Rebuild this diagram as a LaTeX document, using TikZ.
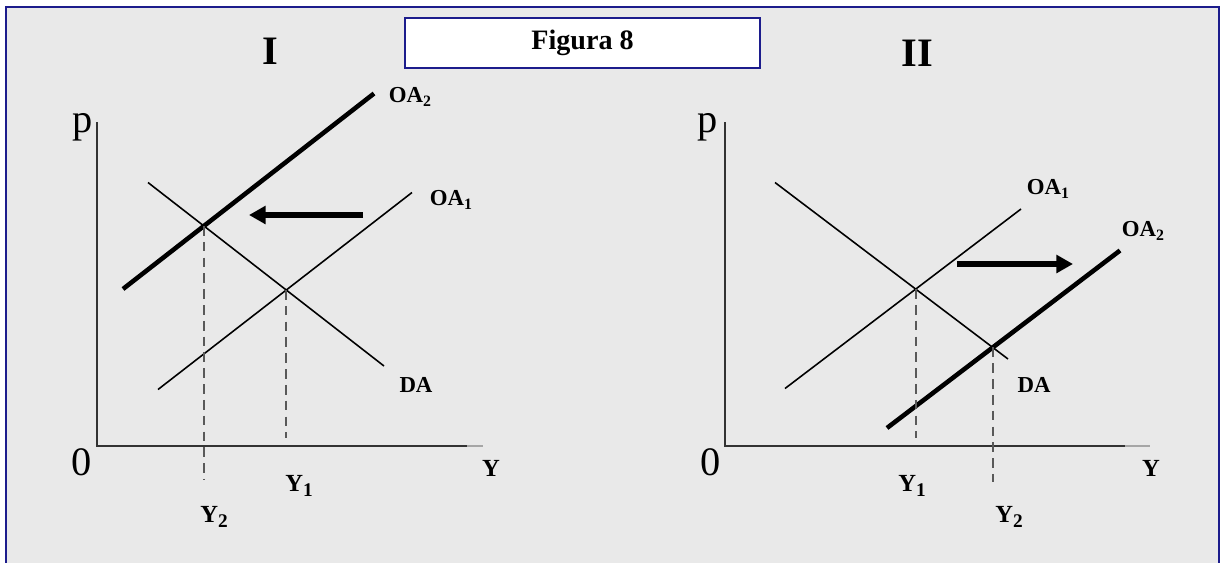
\documentclass[tikz,border=0pt]{standalone}
\usepackage{fontspec}
\setmainfont{Liberation Serif}
\usetikzlibrary{arrows.meta}
\definecolor{framenavy}{HTML}{1C1C8C}
\definecolor{panelgray}{HTML}{E9E9E9}
\newcommand{\lowsub}[2][9]{\raisebox{-0.45ex}{\fontsize{#1}{#1}\selectfont #2}}
\tikzset{
  axis/.style       = {line width=1pt, black!80},
  axisend/.style    = {line width=1pt, black!35},
  curve/.style      = {line width=0.9pt},
  newcurve/.style   = {line width=2.6pt},
  guide/.style      = {dash pattern=on 5.5pt off 3.5pt, line width=0.9pt, black!65},
  shiftarrow/.style = {line width=3.2pt, -{Triangle[length=9.5pt,width=10pt]}},
  lbl/.style        = {font=\bfseries\fontsize{13}{13}\selectfont, inner sep=0pt},
  ylbl/.style       = {font=\bfseries\fontsize{14}{14}\selectfont, inner sep=0pt},
  axlbl/.style      = {font=\fontsize{23}{23}\selectfont, inner sep=0pt},
  ttl/.style        = {font=\bfseries\fontsize{23}{23}\selectfont, inner sep=0pt},
  figbox/.style     = {draw=framenavy, line width=1pt, fill=white,
                       minimum width=7.1cm, minimum height=1cm,
                       font=\bfseries\fontsize{16}{16}\selectfont}
}
\begin{document}
\begin{tikzpicture}[x=0.02cm, y=-0.02cm]
  \clip (0,0) rectangle (1225,562);
  % frame
  \fill[panelgray] (6,7) rectangle (1219,575);
  \draw[framenavy, line width=1.2pt] (6,575) -- (6,7) -- (1219,7) -- (1219,575);
  \node[figbox] (fig) at (582.5,43) {Figura 8};

  % --- panel I: supply shifts left
  \node[ttl] (tI) at (270,51) {I};
  \node[axlbl] (pI) at (83,127) {p};
  \node[axlbl] (zI) at (82,462) {0};
  \draw[axis] (97,122) -- (97,446) -- (467,446);
  \draw[axisend] (467,446) -- (483,446);
  \coordinate (daIa)  at (148,182.5); \coordinate (daIb)  at (384,366);
  \coordinate (oa1Ia) at (158,389.5); \coordinate (oa1Ib) at (412,192.5);
  \coordinate (oa2Ia) at (123,289);   \coordinate (oa2Ib) at (374,93.5);
  \draw[curve] (daIa) -- (daIb);
  \draw[curve] (oa1Ia) -- (oa1Ib);
  \draw[newcurve] (oa2Ia) -- (oa2Ib);
  \coordinate (eIa) at (intersection of daIa--daIb and oa1Ia--oa1Ib);
  \coordinate (eIb) at (intersection of daIa--daIb and oa2Ia--oa2Ib);
  \draw[guide] (eIa) -- (eIa |- 0,438);
  \draw[guide] (eIb) -- (eIb |- 0,479);
  \coordinate (arIa) at (363,215); \coordinate (arIb) at (249,215);
  \draw[shiftarrow] (arIa) -- (arIb);
  \node[lbl] (oa2Il) at (410,97) {OA\lowsub{2}};
  \node[lbl] (oa1Il) at (451,200) {OA\lowsub{1}};
  \node[lbl] (daIl)  at (416,385) {DA};
  \node[ylbl] (yIl)  at (491,468) {Y};
  \node[ylbl] (y1Il) at (299,486) {Y\lowsub[11]{1}};
  \node[ylbl] (y2Il) at (214,517) {Y\lowsub[11]{2}};

  % --- panel II: supply shifts right
  \node[ttl] (tII) at (917,53) {II};
  \node[axlbl] (pII) at (708,127) {p};
  \node[axlbl] (zII) at (711,462) {0};
  \draw[axis] (725,122) -- (725,446) -- (1125,446);
  \draw[axisend] (1125,446) -- (1150,446);
  \coordinate (daIIa)  at (775,182.5); \coordinate (daIIb)  at (1008,359);
  \coordinate (oa1IIa) at (785,388.5); \coordinate (oa1IIb) at (1021,209);
  \coordinate (oa2IIa) at (887,428);   \coordinate (oa2IIb) at (1120,250.5);
  \draw[curve] (daIIa) -- (daIIb);
  \draw[curve] (oa1IIa) -- (oa1IIb);
  \draw[newcurve] (oa2IIa) -- (oa2IIb);
  \coordinate (eIIa) at (intersection of daIIa--daIIb and oa1IIa--oa1IIb);
  \coordinate (eIIb) at (intersection of daIIa--daIIb and oa2IIa--oa2IIb);
  \draw[guide] (eIIa) -- (eIIa |- 0,438);
  \draw[guide] (eIIb) -- (eIIb |- 0,482);
  \coordinate (arIIa) at (957,264); \coordinate (arIIb) at (1073,264);
  \draw[shiftarrow] (arIIa) -- (arIIb);
  \node[lbl] (oa1IIl) at (1048,189) {OA\lowsub{1}};
  \node[lbl] (oa2IIl) at (1143,231) {OA\lowsub{2}};
  \node[lbl] (daIIl)  at (1034,385) {DA};
  \node[ylbl] (yIIl)  at (1151,468) {Y};
  \node[ylbl] (y1IIl) at (912,486) {Y\lowsub[11]{1}};
  \node[ylbl] (y2IIl) at (1009,517) {Y\lowsub[11]{2}};
\end{tikzpicture}
\end{document}
